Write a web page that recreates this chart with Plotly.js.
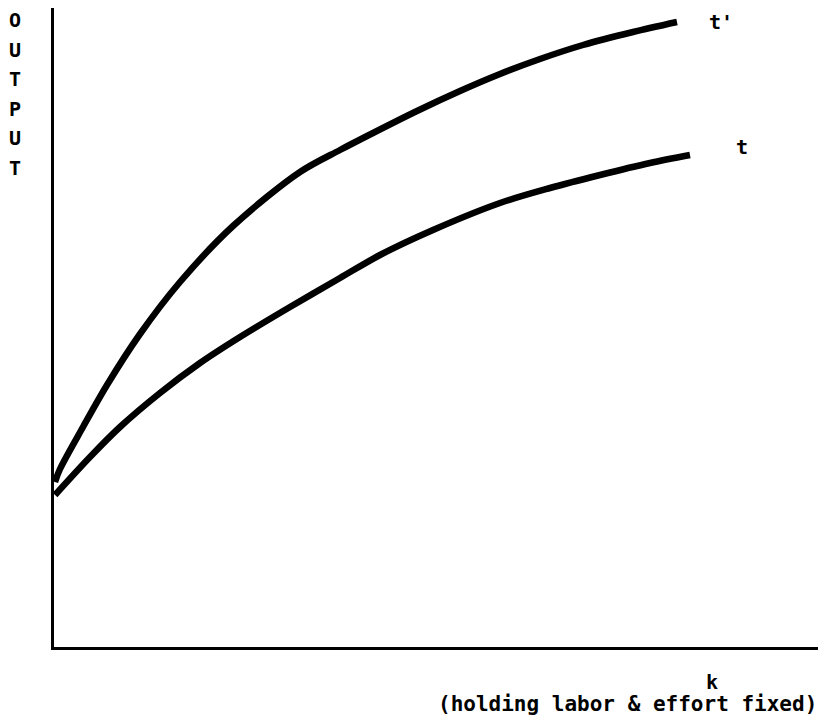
<!DOCTYPE html>
<html>
<head>
<meta charset="utf-8">
<script src="https://cdn.plot.ly/plotly-3.0.1.min.js"></script>
<style>html,body{margin:0;padding:0;background:#fff;}</style>
</head>
<body>
<div id="chart" style="width:818px;height:727px;"></div>
<script>
// capital k (arbitrary units) and output (arbitrary units)
const kUpper = [1, 6, 29, 53, 86, 126, 179, 246, 286, 319, 363, 406, 446, 486, 529, 579, 623];
const outputUpper = [165, 178, 220, 262, 313, 365, 421, 475, 497, 514, 536, 556, 573, 588, 602, 615, 625];
const kLower = [1, 36, 66, 106, 146, 186, 236, 286, 326, 379, 446, 496, 546, 596, 636];
const outputLower = [152, 190, 220, 254, 284, 310, 340, 369, 392, 417, 444, 459, 472, 484, 492];
const curveNames = ["t'", "t"];
const yTitleLetters = ["O", "U", "T", "P", "U", "T"];
const xTitle = "k";
const xSubtitle = "(holding labor & effort fixed)";

const font = {family: "DejaVu Sans Mono, monospace", size: 20, color: "#000"};

const traces = [
  {x: kUpper, y: outputUpper, name: curveNames[0], mode: "lines",
   line: {color: "#000", width: 6.5, shape: "spline", smoothing: 0.9}},
  {x: kLower, y: outputLower, name: curveNames[1], mode: "lines",
   line: {color: "#000", width: 6.5, shape: "spline", smoothing: 0.9}}
];

function ann(px, py, text, xanchor, size) {
  return {x: (px - 54) / 764, y: (647 - py) / 639, xref: "paper", yref: "paper",
          xanchor: xanchor || "center", yanchor: "middle", showarrow: false,
          text: "<b>" + text + "</b>",
          font: Object.assign({}, font, size ? {size: size} : {})};
}

const annotations = [
  ann(721, 22, curveNames[0]),
  ann(742, 147, curveNames[1]),
  ann(712, 682, xTitle),
  ann(819, 704, xSubtitle, "right", 21)
];
yTitleLetters.forEach(function (ch, i) {
  annotations.push(ann(15, 20 + 29.5 * i, ch));
});

const layout = {
  width: 818, height: 727,
  margin: {l: 54, r: 0, t: 8, b: 80},
  paper_bgcolor: "#fff", plot_bgcolor: "#fff",
  showlegend: false,
  xaxis: {range: [0, 764], showgrid: false, zeroline: false, showticklabels: false,
          ticks: "", showline: true, linecolor: "#000", linewidth: 3},
  yaxis: {range: [0, 639], showgrid: false, zeroline: false, showticklabels: false,
          ticks: "", showline: true, linecolor: "#000", linewidth: 3},
  annotations: annotations
};

Plotly.newPlot("chart", traces, layout, {displayModeBar: false, staticPlot: true});
</script>
</body>
</html>
